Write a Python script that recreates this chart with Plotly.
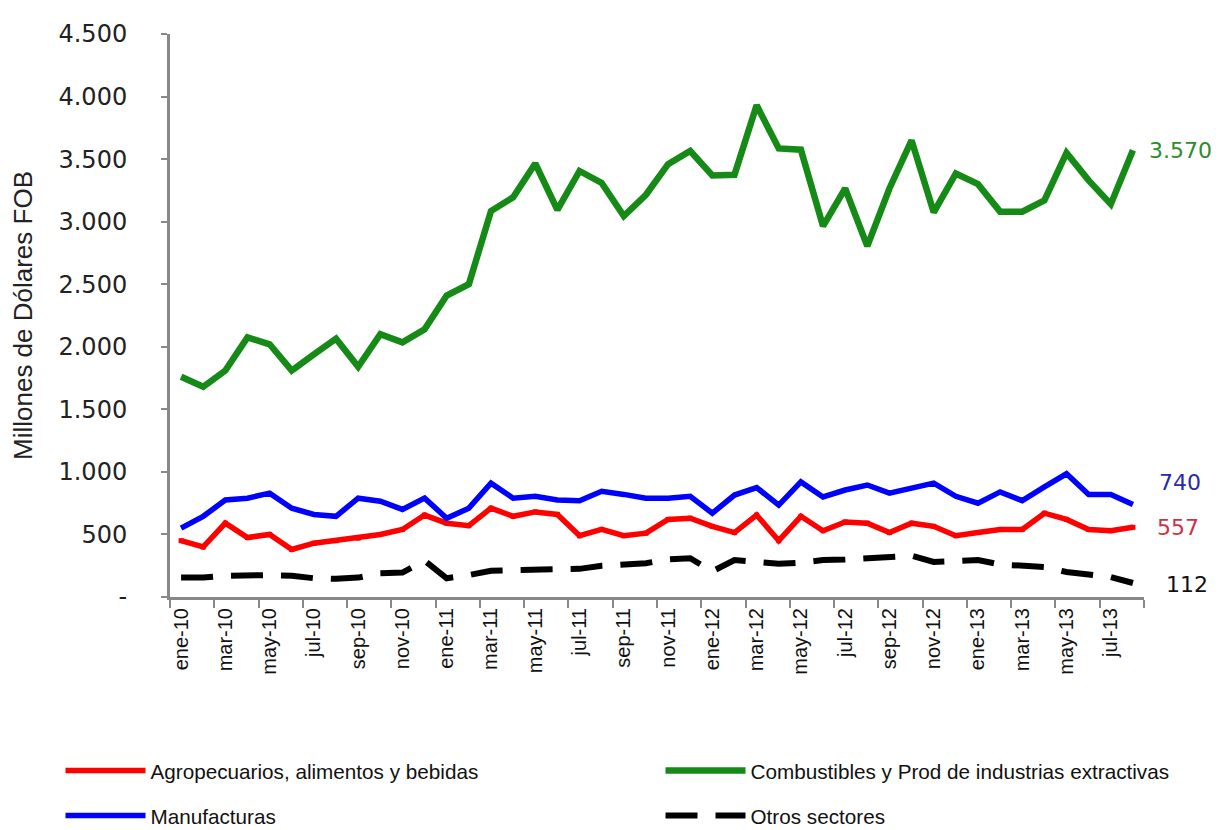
import plotly.graph_objects as go

months = ["ene", "feb", "mar", "abr", "may", "jun", "jul", "ago", "sep", "oct", "nov", "dic"]
categories = [f"{m}-{y}" for y in ["10", "11", "12", "13"] for m in months][:44]

agro = [450, 400, 590, 475, 500, 380, 430, 450, 470, 500, 540, 655,
        590, 570, 710, 645, 680, 660, 490, 540, 490, 510, 620, 630,
        565, 515, 655, 450, 645, 530, 600, 590, 515, 590, 565, 490,
        515, 540, 540, 670, 620, 540, 530, 557]
combustibles = [1760, 1680, 1810, 2075, 2020, 1810, 1940, 2065, 1840, 2100, 2035, 2140,
                2410, 2500, 3085, 3195, 3465, 3095, 3405, 3310, 3045, 3215, 3460, 3565,
                3370, 3375, 3930, 3585, 3575, 2965, 3265, 2805, 3265, 3650, 3075, 3385,
                3300, 3080, 3080, 3170, 3550, 3330, 3140, 3570]
manufacturas = [550, 645, 775, 790, 830, 710, 660, 645, 790, 765, 700, 790,
                630, 710, 910, 790, 805, 775, 770, 845, 820, 790, 790, 805,
                670, 815, 875, 735, 920, 800, 855, 895, 830, 875, 910, 805,
                750, 840, 770, 880, 985, 820, 820, 740]
otros = [155, 155, 170, 175, 175, 170, 150, 145, 155, 190, 195, 290,
         150, 175, 210, 215, 220, 215, 225, 250, 255, 270, 300, 310,
         205, 295, 280, 265, 275, 295, 300, 310, 325, 330, 280, 290,
         295, 260, 255, 240, 200, 185, 160, 112]

names = ["Agropecuarios, alimentos y bebidas",
         "Combustibles y Prod de industrias extractivas",
         "Manufacturas", "Otros sectores"]

y_ticks = [0, 500, 1000, 1500, 2000, 2500, 3000, 3500, 4000, 4500]
y_ticktext = ["-" if v == 0 else f"{v:,}".replace(",", ".") for v in y_ticks]

x = list(range(len(categories)))
x_tickvals = x[::2]
x_ticktext = categories[::2]

fig = go.Figure()
fig.add_trace(go.Scatter(x=x, y=agro, name=names[0], mode="lines+markers",
                         line=dict(color="#ff0000", width=5.5),
                         marker=dict(symbol="square", size=5, color="#ff0000"),
                         legend="legend"))
fig.add_trace(go.Scatter(x=x, y=combustibles, name=names[1], mode="lines",
                         line=dict(color="#168a16", width=6.5), legend="legend2"))
fig.add_trace(go.Scatter(x=x, y=manufacturas, name=names[2], mode="lines",
                         line=dict(color="#0000ff", width=5.5), legend="legend3"))
fig.add_trace(go.Scatter(x=x, y=otros, name=names[3], mode="lines",
                         line=dict(color="#000000", width=6, dash="32px,18px"),
                         legend="legend4"))

def fmt(v):
    return f"{v:,}".replace(",", ".")

end_labels = [
    (combustibles[-1], "#2e8b2e", 0, 14),
    (manufacturas[-1], "#2a2aa8", 22, 24),
    (agro[-1], "#cc3344", 0, 22),
    (otros[-1], "#111111", -2, 31),
]
for val, col, ys, xs in end_labels:
    fig.add_annotation(x=x[-1], y=val, text=fmt(val), showarrow=False,
                       xanchor="left", yanchor="middle", xshift=xs, yshift=ys,
                       font=dict(family="DejaVu Sans", size=22, color=col))

W, H = 1212, 822
legend_common = dict(orientation="h", xanchor="left", yanchor="top",
                     xref="container", yref="container",
                     font=dict(family="Liberation Sans, Arial", size=20.7, color="#111"),
                     bgcolor="rgba(0,0,0,0)", itemwidth=80)
col1, col2 = 52.5 / W, 652.5 / W
row1, row2 = 1 - 742.6 / H, 1 - 787.6 / H

fig.update_layout(
    width=W, height=H,
    margin=dict(l=162, r=76, t=20, b=233),
    paper_bgcolor="white", plot_bgcolor="white",
    font=dict(family="Liberation Sans, Arial", color="#222"),
    showlegend=True,
    legend=dict(x=col1, y=row1, **legend_common),
    legend2=dict(x=col2, y=row1, **legend_common),
    legend3=dict(x=col1, y=row2, **legend_common),
    legend4=dict(x=col2, y=row2, **legend_common),
    xaxis=dict(range=[-0.5, len(categories) - 0.5], tickmode="array",
               tickvals=x_tickvals, ticktext=x_ticktext, tickangle=-90,
               ticks="outside", ticklen=0,
               minor=dict(tick0=-0.5, dtick=2, ticks="outside", ticklen=8,
                          tickcolor="#888", tickwidth=2),
               showline=True, linecolor="#888", linewidth=3,
               showgrid=False, zeroline=False,
               tickfont=dict(family="Liberation Sans, Arial", size=20, color="#111")),
    yaxis=dict(range=[0, 4500], tickmode="array", tickvals=y_ticks,
               ticktext=y_ticktext, ticks="outside", ticklen=6,
               tickcolor="#888", tickwidth=2, ticklabelstandoff=29,
               showline=True, linecolor="#888", linewidth=3,
               showgrid=False, zeroline=False,
               tickfont=dict(family="DejaVu Sans", size=24, color="#222"),
               title=dict(text="Millones de Dólares FOB", standoff=20,
                          font=dict(family="Liberation Sans, Arial", size=26, color="#222"))),
)

fig.write_html("out.html")
